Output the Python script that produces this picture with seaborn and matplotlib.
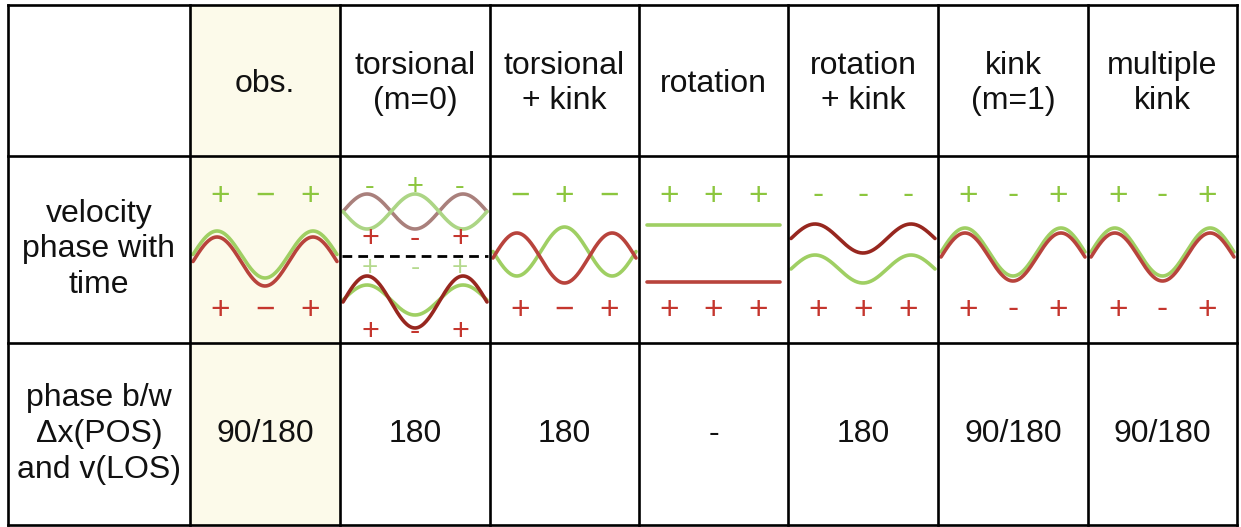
import numpy as np
import pandas as pd
import matplotlib
matplotlib.use("Agg")
import matplotlib.pyplot as plt
import seaborn as sns

# ---- table content ----
headers = ["obs.", "torsional\n(m=0)", "torsional\n+ kink", "rotation",
           "rotation\n+ kink", "kink\n(m=1)", "multiple\nkink"]
row_labels = ["velocity\nphase with\ntime", "phase b/w\n\u0394x(POS)\nand v(LOS)"]
phase_vals = ["90/180", "180", "180", "-", "180", "90/180", "90/180"]

MINUS = "\u2212"
# signs above (green) and below (red) the sketches, one triple per column
green_signs = [["+", MINUS, "+"], ["-", "+", "-"], [MINUS, "+", MINUS], ["+", "+", "+"],
               ["-", "-", "-"], ["+", "-", "+"], ["+", "-", "+"]]
red_signs = [["+", MINUS, "+"], ["+", "-", "+"], ["+", MINUS, "+"], ["+", "+", "+"],
             ["+", "+", "+"], ["+", "-", "+"], ["+", "-", "+"]]
# lower half of the torsional cell
tors_green_lower = ["+", "-", "+"]
tors_red_lower = ["+", "-", "+"]

# sketched waves: column, colour kind, level, amplitude, phase sign
wave_col = [0, 0, 1, 1, 1, 1, 2, 2, 3, 3, 4, 4, 5, 5, 6, 6]
wave_kind = ["g", "r", "rm", "gm", "g", "rd", "g", "r", "g", "r", "rd", "g", "g", "r", "g", "r"]
wave_level = [254.5, 261.5, 211.5, 211.5, 300, 302, 251.5, 258, 225, 282,
              238.5, 269, 252, 257, 252, 257]
wave_amp = [23.5, 24.5, 17.5, 17.5, 15, 26, 24.5, 25, 0, 0, 14.5, 14, 24, 24, 24, 24]
wave_sign = [1, 1, 1, -1, 1, 1, -1, 1, 1, 1, 1, 1, 1, 1, 1, 1]

# ---- layout (pixels) ----
W, H = 1241, 527
col_edges = [8, 190, 340, 490, 639, 788, 938, 1088, 1237]
row_edges = [5, 156, 343, 525]

kind_color = {"g": "#9fcf63", "gm": "#acd585", "r": "#b8433c",
              "rm": "#a9807c", "rd": "#97271f"}
green_txt = "#8cc63e"
red_txt = "#c5362e"
FONT = "Liberation Sans"
FS = 23
LS = 1.24

sns.set_theme(style="white")
plt.rcParams["font.family"] = [FONT, "DejaVu Sans"]

fig = plt.figure(figsize=(W / 100, H / 100), dpi=100)
ax = fig.add_axes([0, 0, 1, 1])

# highlighted observation column
ax.axvspan(col_edges[1], col_edges[2], ymin=1 - row_edges[3] / H, ymax=1 - row_edges[0] / H,
           color="#fcfaea", zorder=0, lw=0)

# waves
rows = []
for k in range(len(wave_col)):
    c = wave_col[k]
    x0, x1 = col_edges[c + 1], col_edges[c + 2]
    if wave_amp[k] == 0:
        xs = np.linspace(x0 + 8, x1 - 8, 50)
    else:
        xs = np.linspace(x0 + 3, x1 - 3, 200)
    ph = np.linspace(0, 3 * np.pi, len(xs))
    ys = wave_level[k] - wave_sign[k] * wave_amp[k] * np.sin(ph)
    rows.append(pd.DataFrame({"x": xs, "y": ys, "wave": k}))
waves = pd.concat(rows)
for k, d in waves.groupby("wave"):
    sns.lineplot(data=d, x="x", y="y", ax=ax, color=kind_color[wave_kind[k]],
                 lw=2.6, sort=False, estimator=None, zorder=3)
ax.set_xlim(0, W)
ax.set_ylim(H, 0)
ax.axis("off")

# headers and row labels
for i, h in enumerate(headers):
    cx = (col_edges[i + 1] + col_edges[i + 2]) / 2
    ax.text(cx, (row_edges[0] + row_edges[1]) / 2 + 3, h, ha="center", va="center",
            fontsize=FS, linespacing=LS, color="#111111")
for r, lab in enumerate(row_labels):
    cy = (row_edges[r + 1] + row_edges[r + 2]) / 2
    ax.text((col_edges[0] + col_edges[1]) / 2, cy, lab, ha="center", va="center",
            fontsize=FS, linespacing=LS, color="#111111")
for i, v in enumerate(phase_vals):
    cx = (col_edges[i + 1] + col_edges[i + 2]) / 2
    ax.text(cx, (row_edges[2] + row_edges[3]) / 2, v, ha="center", va="center",
            fontsize=FS, color="#111111")


def sign_row(col, signs, y, color, size=24, alpha=1.0):
    x0, x1 = col_edges[col + 1], col_edges[col + 2]
    w = x1 - x0
    for s, f in zip(signs, [0.2, 0.5, 0.8]):
        ax.text(x0 + f * w, y, s, ha="center", va="center", fontsize=size,
                color=color, alpha=alpha, zorder=4)


for i in range(7):
    if i == 1:
        sign_row(i, green_signs[i], 187, green_txt, size=21)
        sign_row(i, red_signs[i], 239, red_txt, size=22)
        sign_row(i, tors_green_lower, 268, "#b5d98e", size=20)
        sign_row(i, tors_red_lower, 332, red_txt, size=22)
    else:
        sign_row(i, green_signs[i], 196, green_txt)
        sign_row(i, red_signs[i], 310, red_txt)

# dashed divider in torsional cell
ax.plot([col_edges[2] + 2, col_edges[3] - 2], [256, 256], color="black", lw=2,
        ls=(0, (3.5, 2.2)), zorder=5)

# grid lines
for x in col_edges:
    ax.plot([x, x], [row_edges[0], row_edges[-1]], color="black", lw=1.9, zorder=6,
            solid_capstyle="projecting")
for y in row_edges:
    ax.plot([col_edges[0], col_edges[-1]], [y, y], color="black", lw=1.9, zorder=6,
            solid_capstyle="projecting")

fig.savefig("out.png", dpi=100, facecolor="white")
